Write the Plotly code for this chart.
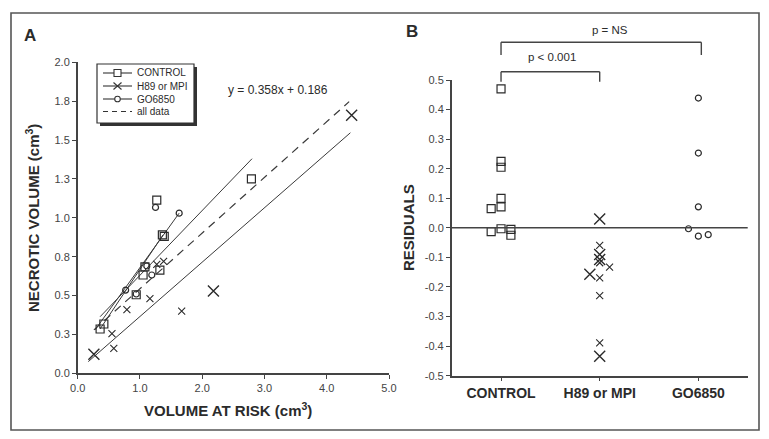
import plotly.graph_objects as go

W, H = 769, 439
FONT = "Liberation Sans, Arial, sans-serif"
INK = "#2b2b2b"
AXC = "#444444"

# ---- panel A: necrotic volume vs volume at risk (cm3)
ctrl_x = [0.36, 0.42, 0.94, 1.05, 1.08, 1.32, 1.36, 1.39, 1.27, 2.79]
ctrl_y = [0.285, 0.317, 0.505, 0.632, 0.685, 0.664, 0.89, 0.88, 1.114, 1.25]
h89_big_x = [0.26, 2.18, 4.40]
h89_big_y = [0.122, 0.529, 1.66]
h89_small_x = [0.55, 0.58, 0.79, 1.16, 1.27, 1.38, 1.67]
h89_small_y = [0.255, 0.16, 0.41, 0.48, 0.70, 0.72, 0.40]
go_x = [0.77, 0.94, 1.11, 1.19, 1.25, 1.63]
go_y = [0.535, 0.51, 0.69, 0.632, 1.067, 1.03]

# fitted lines (end points)
fit_ctrl_x, fit_ctrl_y = [0.36, 2.80], [0.364, 1.38]
fit_go_x, fit_go_y = [0.28, 1.63], [0.28, 1.03]
fit_mid_x, fit_mid_y = [0.36, 1.37], [0.285, 0.89]
fit_h89_x, fit_h89_y = [0.17, 4.38], [0.075, 1.547]
fit_all_x, fit_all_y = [0.26, 4.36], [0.279, 1.747]
fit_all_label = "y = 0.358x + 0.186"

a_xticks = [0, 1, 2, 3, 4, 5]
a_xtext = ["0.0", "1.0", "2.0", "3.0", "4.0", "5.0"]
a_yticks = [0, 0.25, 0.5, 0.75, 1.0, 1.25, 1.5, 1.75, 2.0]
a_ytext = ["0.0", "0.3", "0.5", "0.8", "1.0", "1.3", "1.5", "1.8", "2.0"]

# ---- panel B: residuals by group
groups = ["CONTROL", "H89 or MPI", "GO6850"]
ctrl_res_jit = [0, 0, 0, 0, 0, -0.1, -0.1, 0, 0.1, 0.1]
ctrl_res = [0.47, 0.225, 0.205, 0.10, 0.071, 0.065, -0.013, -0.003, -0.005, -0.025]
h89_big_jit = [0, 0, 0, -0.1, 0]
h89_big_res = [0.03, -0.09, -0.107, -0.157, -0.434]
h89_small_jit = [0, 0, 0.1, 0, 0, 0]
h89_small_res = [-0.059, -0.118, -0.133, -0.169, -0.229, -0.389]
go_res_jit = [0, 0, 0, -0.1, 0, 0.1]
go_res = [0.439, 0.253, 0.071, -0.003, -0.028, -0.023]

b_yticks = [0.5, 0.4, 0.3, 0.2, 0.1, 0.0, -0.1, -0.2, -0.3, -0.4, -0.5]
b_ytext = ["0.5", "0.4", "0.3", "0.2", "0.1", "0.0", "-0.1", "-0.2", "-0.3", "-0.4", "-0.5"]


def fx(p):
    return p / W


def fy(p):
    return 1 - p / H


sq = dict(symbol="square-open", size=8, color=INK, line=dict(width=1.2, color=INK))
circ = dict(symbol="circle-open", size=6, color=INK, line=dict(width=1.2, color=INK))
xbig = dict(symbol="x-thin-open", size=11, color=INK, line=dict(width=1.4, color=INK))
xsmall = dict(symbol="x-thin-open", size=7, color=INK, line=dict(width=1.1, color=INK))
fitline = dict(color="#3a3a3a", width=1.0)

fig = go.Figure()

for fx_, fy_ in [(fit_ctrl_x, fit_ctrl_y), (fit_go_x, fit_go_y), (fit_mid_x, fit_mid_y), (fit_h89_x, fit_h89_y)]:
    fig.add_trace(go.Scatter(x=fx_, y=fy_, mode="lines", line=fitline, xaxis="x", yaxis="y"))
fig.add_trace(go.Scatter(x=fit_all_x, y=fit_all_y, mode="lines", xaxis="x", yaxis="y",
                         line=dict(color="#3a3a3a", width=1.2, dash="8px,6px")))

fig.add_trace(go.Scatter(x=ctrl_x, y=ctrl_y, mode="markers", marker=sq, xaxis="x", yaxis="y"))
fig.add_trace(go.Scatter(x=go_x, y=go_y, mode="markers", marker=circ, xaxis="x", yaxis="y"))
fig.add_trace(go.Scatter(x=h89_small_x, y=h89_small_y, mode="markers", marker=xsmall, xaxis="x", yaxis="y"))
fig.add_trace(go.Scatter(x=h89_big_x, y=h89_big_y, mode="markers", marker=xbig, xaxis="x", yaxis="y"))

fig.add_trace(go.Scatter(x=[1 + j for j in ctrl_res_jit], y=ctrl_res, mode="markers", marker=sq, xaxis="x2", yaxis="y2"))
fig.add_trace(go.Scatter(x=[2 + j for j in h89_small_jit], y=h89_small_res, mode="markers", marker=xsmall, xaxis="x2", yaxis="y2"))
fig.add_trace(go.Scatter(x=[2 + j for j in h89_big_jit], y=h89_big_res, mode="markers", marker=xbig, xaxis="x2", yaxis="y2"))
fig.add_trace(go.Scatter(x=[3 + j for j in go_res_jit], y=go_res, mode="markers", marker=circ, xaxis="x2", yaxis="y2"))

axis_common = dict(showline=True, linecolor=AXC, linewidth=1.5, ticks="outside", ticklen=4,
                   tickcolor=AXC, tickwidth=1.2, showgrid=False, zeroline=False, automargin=False,
                   tickfont=dict(family=FONT, size=11, color="#444444"))

fig.update_layout(
    width=W, height=H, showlegend=False, autosize=False,
    margin=dict(l=0, r=0, t=0, b=0, pad=0, autoexpand=False),
    plot_bgcolor="white", paper_bgcolor="white",
    font=dict(family=FONT, color=INK),
    xaxis=dict(domain=[fx(77.7), fx(389)], range=[0, 5], anchor="y",
               tickvals=a_xticks, ticktext=a_xtext, **axis_common),
    yaxis=dict(domain=[fy(373.3), fy(62.3)], range=[0, 2], anchor="x",
               tickvals=a_yticks, ticktext=a_ytext, **axis_common),
    xaxis2=dict(domain=[fx(451.7), fx(747.7)], range=[0.5, 3.5], anchor="y2",
                **{**axis_common, "tickfont": dict(family=FONT, size=14, color=INK, weight="bold")},
                tickvals=[1, 2, 3], ticktext=groups),
    yaxis2=dict(domain=[fy(375.7), fy(80)], range=[-0.5, 0.5], anchor="x2",
                tickvals=b_yticks, ticktext=b_ytext, **axis_common),
)

shapes = []
# outer frame
shapes.append(dict(type="rect", xref="paper", yref="paper", x0=fx(11), x1=fx(759), y0=fy(430), y1=fy(13),
                   line=dict(color="#555555", width=1.6)))
# zero line in panel B
shapes.append(dict(type="line", xref="x2 domain", yref="y2", x0=0, x1=1, y0=0, y1=0,
                   line=dict(color=AXC, width=1.5)))

# significance brackets (panel B)
def bracket(x0, x1, top, bottom):
    return [
        dict(type="line", xref="x2", yref="paper", x0=x0, x1=x1, y0=fy(top), y1=fy(top), line=dict(color=AXC, width=1.4)),
        dict(type="line", xref="x2", yref="paper", x0=x0, x1=x0, y0=fy(top), y1=fy(bottom), line=dict(color=AXC, width=1.4)),
        dict(type="line", xref="x2", yref="paper", x0=x1, x1=x1, y0=fy(top), y1=fy(bottom), line=dict(color=AXC, width=1.4)),
    ]

shapes += bracket(1, 2, 71.7, 81.7)
shapes += bracket(1, 3.03, 42.3, 55)

# legend box (panel A) with drop shadow
lx0, ly0, lx1, ly1 = 97, 64, 194, 123
shapes.append(dict(type="rect", xref="paper", yref="paper", x0=fx(lx0 + 3), x1=fx(lx1 + 3), y0=fy(ly1 + 3), y1=fy(ly0 + 3),
                   fillcolor="#333333", line=dict(width=0)))
shapes.append(dict(type="rect", xref="paper", yref="paper", x0=fx(lx0), x1=fx(lx1), y0=fy(ly1), y1=fy(ly0),
                   fillcolor="white", line=dict(color="#333333", width=1.2)))
rows = [73, 86, 99, 111.5]
sx0, sx1, sxc = 103, 132, 117.5
for i, r in enumerate(rows):
    shapes.append(dict(type="line", xref="paper", yref="paper", x0=fx(sx0), x1=fx(sx1), y0=fy(r), y1=fy(r),
                       line=dict(color="#333333", width=1.1, dash="5px,4px" if i == 3 else "solid")))
shapes.append(dict(type="rect", xref="paper", yref="paper", x0=fx(sxc - 3.5), x1=fx(sxc + 3.5),
                   y0=fy(rows[0] + 3.5), y1=fy(rows[0] - 3.5), fillcolor="white", line=dict(color="#333333", width=1.1)))
for d in (-1, 1):
    shapes.append(dict(type="line", xref="paper", yref="paper", x0=fx(sxc - 4), x1=fx(sxc + 4),
                       y0=fy(rows[1] - 3.5 * d), y1=fy(rows[1] + 3.5 * d), line=dict(color="#333333", width=1.1)))
shapes.append(dict(type="circle", xref="paper", yref="paper", x0=fx(sxc - 2.8), x1=fx(sxc + 2.8),
                   y0=fy(rows[2] + 2.8), y1=fy(rows[2] - 2.8), fillcolor="white", line=dict(color="#333333", width=1.1)))
fig.update_layout(shapes=shapes)

legend_labels = ["CONTROL", "H89 or MPI", "GO6850", "all data"]
ann = []
for lab, r in zip(legend_labels, rows):
    ann.append(dict(text=lab, xref="paper", yref="paper", x=fx(135), y=fy(r), xanchor="left", yanchor="middle",
                    showarrow=False, font=dict(family=FONT, size=10, color=INK)))

def label(text, x, y, size, angle=0, bold=True, color=INK):
    return dict(text=f"<b>{text}</b>" if bold else text, xref="paper", yref="paper", x=fx(x), y=fy(y),
                xanchor="center", yanchor="middle", showarrow=False, textangle=angle,
                font=dict(family=FONT, size=size, color=color))

ann += [
    label("A", 30, 35, 17),
    label("B", 411.7, 31.7, 17),
    label("VOLUME AT RISK (cm<sup>3</sup>)", 228, 409, 15),
    label("NECROTIC VOLUME (cm<sup>3</sup>)", 33, 218, 15, angle=-90),
    label("RESIDUALS", 408, 228, 15, angle=-90),
    label(fit_all_label, 278, 90, 12, bold=False),
    label("p < 0.001", 551.7, 56.7, 11.5, bold=False),
    label("p = NS", 610, 30, 11.5, bold=False),
]
fig.update_layout(annotations=ann)

fig.write_html("out.html", config={"responsive": False, "displayModeBar": False},
               post_script="document.body.style.margin='0';document.body.style.overflow='hidden';")
